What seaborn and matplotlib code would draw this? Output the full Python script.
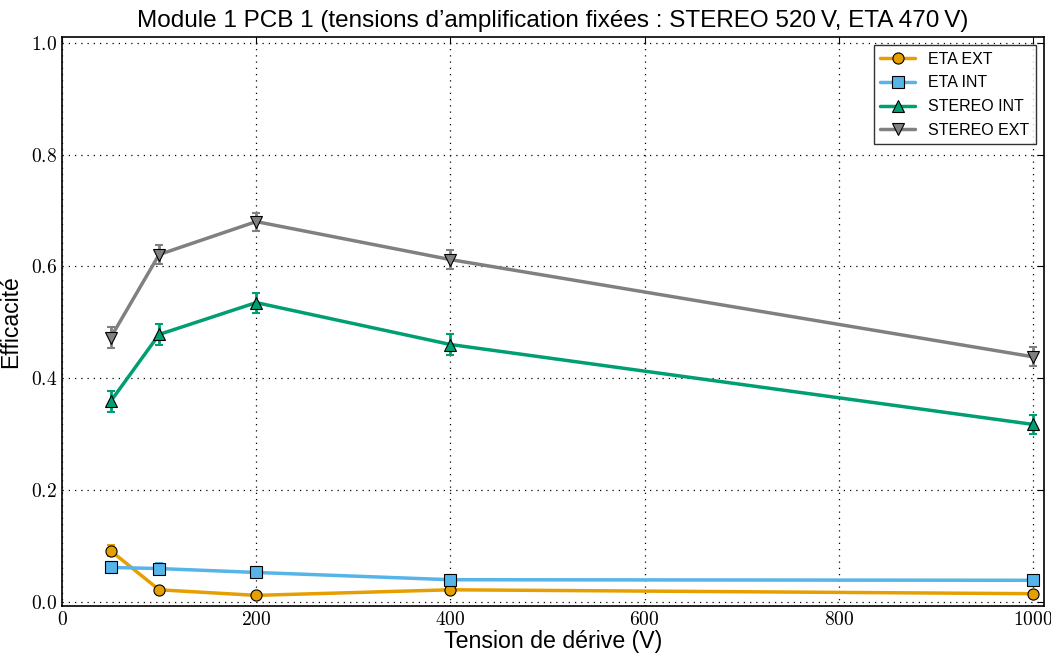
import numpy as np
import pandas as pd
import matplotlib
matplotlib.use("Agg")
import matplotlib.pyplot as plt
import seaborn as sns
from matplotlib.ticker import FuncFormatter

tension = [50, 100, 200, 400, 1000]
eta_ext = [0.091, 0.021, 0.011, 0.021, 0.014]
eta_int = [0.061, 0.059, 0.052, 0.039, 0.038]
stereo_int = [0.358, 0.478, 0.535, 0.460, 0.317]
stereo_ext = [0.472, 0.621, 0.680, 0.612, 0.438]
err_eta_ext = [0.010, 0.005, 0.004, 0.005, 0.004]
err_eta_int = [0.010, 0.010, 0.010, 0.009, 0.008]
err_stereo_int = [0.018, 0.018, 0.018, 0.018, 0.017]
err_stereo_ext = [0.019, 0.017, 0.016, 0.017, 0.017]

series = ["ETA EXT", "ETA INT", "STEREO INT", "STEREO EXT"]
values = [eta_ext, eta_int, stereo_int, stereo_ext]
errors = [err_eta_ext, err_eta_int, err_stereo_int, err_stereo_ext]
colors = ["#E69F00", "#56B4E9", "#009E73", "#808080"]
markers = ["o", "s", "^", "v"]

sns.set_style("white")
plt.rcParams["font.family"] = ["Liberation Sans", "DejaVu Sans"]
plt.rcParams["mathtext.fontset"] = "cm"
plt.rcParams["text.color"] = "black"
plt.rcParams["axes.labelcolor"] = "black"
plt.rcParams["xtick.color"] = "black"
plt.rcParams["ytick.color"] = "black"

rows = []
for s, v in zip(series, values):
    for t, y in zip(tension, v):
        rows.append({"Tension": t, "Eff": y, "Serie": s})
df = pd.DataFrame(rows)

fig, ax = plt.subplots(figsize=(10.51, 6.53), dpi=100)
fig.subplots_adjust(left=0.059, right=0.993, bottom=0.072, top=0.943)

for s, v, e, c, m in zip(series, values, errors, colors, markers):
    ax.errorbar(tension, v, yerr=e, fmt="none", ecolor=c, elinewidth=2,
                capsize=3, capthick=1.5, zorder=2)
    sns.lineplot(data=df[df["Serie"] == s], x="Tension", y="Eff", ax=ax,
                 color=c, marker=m, markersize=8, markeredgecolor="black",
                 markeredgewidth=0.8, linewidth=2.5, label=s, zorder=3)

ax.set_xlim(0, 1011)
ax.set_ylim(-0.008, 1.01)
ax.set_xticks([0, 200, 400, 600, 800, 1000])
ax.set_yticks([0.0, 0.2, 0.4, 0.6, 0.8, 1.0])
ax.xaxis.set_major_formatter(FuncFormatter(lambda v, p: r"$%d$" % v))
ax.yaxis.set_major_formatter(FuncFormatter(lambda v, p: r"$%.1f$" % v))
ax.tick_params(direction="in", top=True, right=True, labelsize=14, length=5)
ax.grid(True, linestyle=(0, (1, 4)), color="black", linewidth=0.9)
for sp in ax.spines.values():
    sp.set_color("black")
    sp.set_linewidth(1.2)

ax.set_xlabel("Tension de dérive (V)", fontsize=16.7, labelpad=1)
ax.set_ylabel("Efficacité", fontsize=16.5, labelpad=6)
ax.set_title("Module 1 PCB 1 (tensions d’amplification fixées : STEREO 520\u2009V, ETA 470\u2009V)",
             fontsize=17.5, pad=7)

leg = ax.legend(loc="upper right", fontsize=11.5, frameon=True, fancybox=False,
                edgecolor="black", handlelength=2.2, borderpad=0.4,
                labelspacing=0.55, markerscale=1.0)
leg.get_frame().set_linewidth(1.0)

fig.savefig("out.png", dpi=100)
